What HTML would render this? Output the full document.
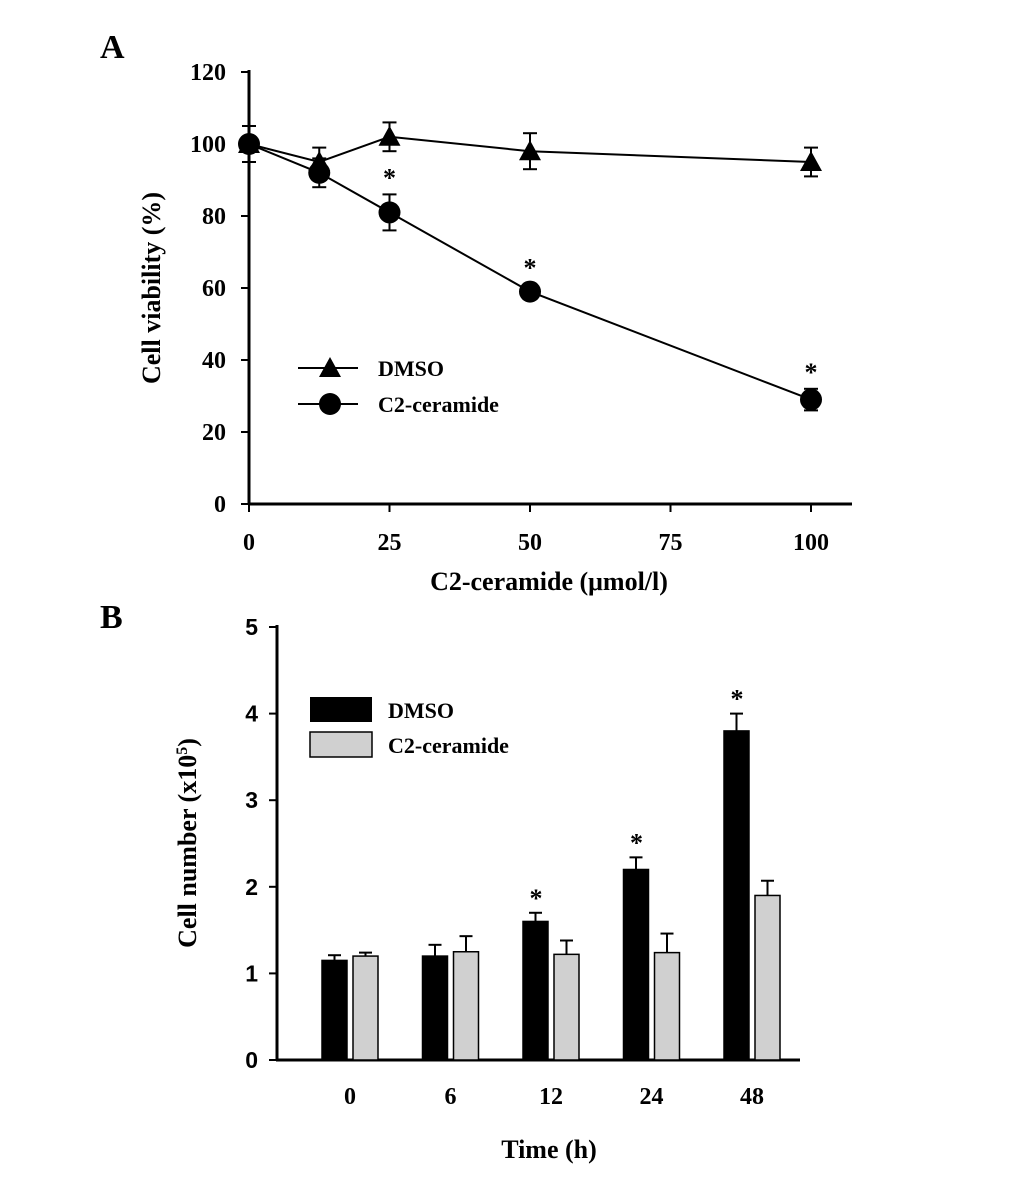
<!DOCTYPE html>
<html><head><meta charset="utf-8"><style>
body{margin:0;background:#fff}
svg text{font-family:"Liberation Serif",serif;font-weight:bold;fill:#000}
.sans{font-family:"Liberation Sans",sans-serif}
</style></head><body>
<svg id="c" width="1033" height="1178" xmlns="http://www.w3.org/2000/svg"></svg>
<script>
const aX=[0,12.5,25,50,100];
const aDmso=[100,95,102,98,95];
const aDmsoErr=[5,4,4,5,4];
const aC2=[100,92,81,59,29];
const aC2Err=[5,4,5,2,3];
const aC2Sig=[false,false,true,true,true];
const aYTicks=[0,20,40,60,80,100,120];
const aXTicks=[0,25,50,75,100];
const bCats=["0","6","12","24","48"];
const bDmso=[1.15,1.2,1.6,2.2,3.8];
const bDmsoErr=[0.06,0.13,0.1,0.14,0.2];
const bC2=[1.2,1.25,1.22,1.24,1.9];
const bC2Err=[0.04,0.18,0.16,0.22,0.17];
const bSig=[false,false,true,true,true];
const bYTicks=[0,1,2,3,4,5];

const svg=document.getElementById('c');
const NS="http://www.w3.org/2000/svg";
function mk(t,a,txt){const e=document.createElementNS(NS,t);for(const k in a)e.setAttribute(k,a[k]);if(txt!==undefined)e.textContent=txt;svg.appendChild(e);return e;}
function ln(x1,y1,x2,y2,w){return mk('line',{x1,y1,x2,y2,stroke:'#000','stroke-width':w||2});}

// Panel A
const ax=v=>249+v*5.62, ay=v=>504-v*3.6;
let t=mk('text',{x:100,y:58,'font-size':34},'A');

ln(249,70,249,505,3);ln(248,504,852,504,3);
aYTicks.forEach(v=>{ln(241,ay(v),249,ay(v));let e=mk('text',{x:226,y:ay(v)+8,'font-size':24,'text-anchor':'end'},v);
});
aXTicks.forEach(v=>{ln(ax(v),504,ax(v),512);let e=mk('text',{x:ax(v),y:550,'font-size':24,'text-anchor':'middle'},v);
});
t=mk('text',{x:549,y:590,'font-size':26,'text-anchor':'middle'},'C2-ceramide (μmol/l)');

t=mk('text',{x:160,y:288,'font-size':26,'text-anchor':'middle',transform:'rotate(-90 160 288)'},'Cell viability (%)');

function series(vals,errs,marker,name){
  let p=mk('polyline',{points:vals.map((v,i)=>ax(aX[i])+','+ay(v)).join(' '),fill:'none',stroke:'#000','stroke-width':2});
  
  vals.forEach((v,i)=>{const x=ax(aX[i]);ln(x,ay(v+errs[i]),x,ay(v-errs[i]));ln(x-7,ay(v+errs[i]),x+7,ay(v+errs[i]));ln(x-7,ay(v-errs[i]),x+7,ay(v-errs[i]));
    let m=marker(x,ay(v));});
}
const tri=(x,y)=>mk('polygon',{points:`${x},${y-11} ${x-11},${y+9} ${x+11},${y+9}`,fill:'#000'});
const circ=(x,y)=>mk('circle',{cx:x,cy:y,r:11,fill:'#000'});
series(aDmso,aDmsoErr,tri,'dmso');
series(aC2,aC2Err,circ,'c2-ceramide');
aC2.forEach((v,i)=>{if(aC2Sig[i]){let e=mk('text',{x:ax(aX[i]),y:ay(v+aC2Err[i])-8,'font-size':26,'text-anchor':'middle'},'*');
}});
ln(298,368,358,368);t=tri(330,368);
t=mk('text',{x:378,y:376,'font-size':22},'DMSO');
ln(298,404,358,404);t=circ(330,404);
t=mk('text',{x:378,y:412,'font-size':22},'C2-ceramide');

// Panel B
const by=v=>1060-v*86.6, bx=i=>350+i*100.5;
t=mk('text',{x:100,y:628,'font-size':34},'B');
ln(277,625,277,1061,3);ln(276,1060,800,1060,3);
bYTicks.forEach(v=>{ln(269,by(v),277,by(v));let e=mk('text',{x:258,y:by(v)+8,'font-size':23,'text-anchor':'end',class:'sans'},v);
});
bCats.forEach((c,i)=>{let e=mk('text',{x:bx(i),y:1104,'font-size':24,'text-anchor':'middle'},c);
});
t=mk('text',{x:549,y:1158,'font-size':26,'text-anchor':'middle'},'Time (h)');
t=mk('text',{x:196,y:843,'font-size':26,'text-anchor':'middle',transform:'rotate(-90 196 843)'});
t.innerHTML='Cell number (x10<tspan dy="-9" font-size="16">5</tspan><tspan dy="9">)</tspan>';

function bars(vals,errs,off,fill,name){vals.forEach((v,i)=>{const x=bx(i)+off;
  ln(x+12.5,by(v+errs[i]),x+12.5,by(v));ln(x+6,by(v+errs[i]),x+19,by(v+errs[i]));
  let r=mk('rect',{x,y:by(v),width:25,height:by(0)-by(v),fill,stroke:'#000','stroke-width':1.5});
  });}
bars(bDmso,bDmsoErr,-28,'#000','dmso');
bars(bC2,bC2Err,3,'#d0d0d0','c2-ceramide');
bDmso.forEach((v,i)=>{if(bSig[i]){let e=mk('text',{x:bx(i)-15,y:by(v+bDmsoErr[i])-6,'font-size':26,'text-anchor':'middle'},'*');
}});
t=mk('rect',{x:310,y:697,width:62,height:25,fill:'#000'});
t=mk('text',{x:388,y:718,'font-size':22},'DMSO');
t=mk('rect',{x:310,y:732,width:62,height:25,fill:'#d0d0d0',stroke:'#000','stroke-width':1.5});
t=mk('text',{x:388,y:753,'font-size':22},'C2-ceramide');
</script>
</body></html>
